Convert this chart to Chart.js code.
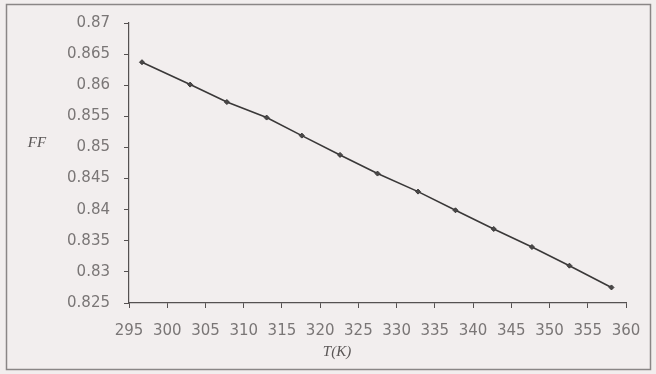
<!DOCTYPE html>
<html>
<head>
<meta charset="utf-8">
<script src="https://cdn.jsdelivr.net/npm/chart.js@4/dist/chart.umd.min.js"></script>
<style>
  html, body { margin: 0; padding: 0; background: #f2eeee; }
  #wrap { position: relative; width: 656px; height: 374px; }
</style>
</head>
<body>
<div id="wrap"><canvas id="c" width="656" height="374"></canvas></div>
<script>
// Data
const temperatureK = [296.7, 303.0, 307.8, 313.0, 317.6, 322.6, 327.5, 332.8, 337.7, 342.7, 347.7, 352.6, 358.1];
const fillFactor   = [0.8637, 0.8601, 0.8573, 0.8548, 0.8519, 0.8488, 0.8458, 0.8429, 0.8399, 0.8369, 0.8340, 0.8310, 0.8275];
const xTickLabels = [295, 300, 305, 310, 315, 320, 325, 330, 335, 340, 345, 350, 355, 360];
const yTickLabels = ['0.825', '0.83', '0.835', '0.84', '0.845', '0.85', '0.855', '0.86', '0.865', '0.87'];
const xAxisTitle = 'T(K)';
const yAxisTitle = 'FF';

const points = temperatureK.map((t, i) => ({ x: t, y: fillFactor[i] }));

const framePlugin = {
  id: 'frame',
  beforeDraw(chart) {
    const ctx = chart.ctx;
    ctx.save();
    ctx.fillStyle = '#f2eeee';
    ctx.fillRect(0, 0, chart.width, chart.height);
    ctx.strokeStyle = '#8a8686';
    ctx.lineWidth = 1.5;
    ctx.strokeRect(6.5, 4.5, 644, 365);
    ctx.restore();
  },
  afterDraw(chart) {
    const ctx = chart.ctx;
    ctx.save();
    ctx.fillStyle = '#5a5656';
    ctx.font = 'italic 15px "Liberation Serif", serif';
    ctx.textAlign = 'center';
    ctx.textBaseline = 'middle';
    ctx.fillText(yAxisTitle, 37, 143);
    ctx.fillText(xAxisTitle, 337, 352);
    ctx.restore();
  }
};

new Chart(document.getElementById('c'), {
  type: 'scatter',
  data: {
    datasets: [{
      data: points,
      showLine: true,
      borderColor: '#3a3838',
      borderWidth: 1.6,
      backgroundColor: '#4a4848',
      pointRadius: 2.5,
      pointStyle: 'rectRot',
      pointBorderWidth: 1
    }]
  },
  plugins: [framePlugin],
  options: {
    responsive: false,
    animation: false,
    layout: { padding: { left: 0, top: 19, right: 30, bottom: 0 } },
    plugins: { legend: { display: false }, tooltip: { enabled: false } },
    scales: {
      x: {
        type: 'linear',
        min: 295, max: 360,
        afterBuildTicks(scale) { scale.ticks = xTickLabels.map(v => ({ value: v })); },
        afterFit(scale) { scale.height = 71; },
        border: { display: true, color: '#555151', width: 1.2 },
        grid: { display: true, drawOnChartArea: false, drawTicks: true, tickLength: 5, color: '#555151' },
        ticks: {
          autoSkip: false, maxRotation: 0, padding: 14,
          color: '#7a7676',
          font: { family: '"DejaVu Sans", sans-serif', size: 15 },
          callback: (v) => String(v)
        }
      },
      y: {
        type: 'linear',
        min: 0.825, max: 0.87,
        afterBuildTicks(scale) { scale.ticks = yTickLabels.map(v => ({ value: parseFloat(v) })); },
        afterFit(scale) { scale.width = 129; },
        border: { display: true, color: '#555151', width: 1.2 },
        grid: { display: true, drawOnChartArea: false, drawTicks: true, tickLength: 5, color: '#555151' },
        ticks: {
          padding: 14,
          color: '#7a7676',
          font: { family: '"DejaVu Sans", sans-serif', size: 15 },
          callback: (v) => {
            const idx = yTickLabels.findIndex(s => Math.abs(parseFloat(s) - v) < 1e-9);
            return idx >= 0 ? yTickLabels[idx] : '';
          }
        }
      }
    }
  }
});
</script>
</body>
</html>
